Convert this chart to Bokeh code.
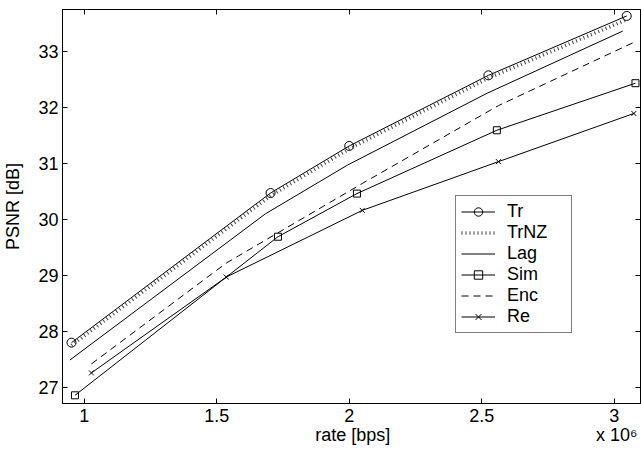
from bokeh.plotting import figure
from bokeh.models import Range1d, FixedTicker, LinearAxis, Legend, LegendItem
from bokeh.embed import file_html
from bokeh.resources import INLINE

# rate in units of 10^6 bps, PSNR in dB
tr_rate = [0.952, 1.703, 2.000, 2.525, 3.047]
tr_psnr = [27.80, 30.47, 31.31, 32.57, 33.63]

trnz_rate = [0.952, 1.703, 2.000, 2.525, 3.040]
trnz_psnr = [27.75, 30.42, 31.26, 32.52, 33.55]

lag_rate = [0.946, 1.684, 1.994, 2.520, 3.032]
lag_psnr = [27.49, 30.10, 30.97, 32.25, 33.36]

sim_rate = [0.965, 1.731, 2.029, 2.557, 3.080]
sim_psnr = [26.86, 29.69, 30.46, 31.59, 32.43]

enc_rate = [1.027, 1.536, 2.049, 2.563, 3.070]
enc_psnr = [27.42, 29.22, 30.64, 32.03, 33.15]

re_rate = [1.027, 1.536, 2.049, 2.563, 3.074]
re_psnr = [27.26, 28.97, 30.16, 31.03, 31.89]

x_ticks = [1, 1.5, 2, 2.5, 3]
y_ticks = [27, 28, 29, 30, 31, 32, 33]

x_title = "rate [bps]"
x_scale_note = "x 10\u2076"

FONT = "Liberation Sans"
FS = "18px"

p = figure(width=641, height=452, output_backend="svg", toolbar_location=None,
           x_range=Range1d(0.918, 3.099), y_range=Range1d(26.714, 33.745),
           min_border_left=61, min_border_right=1, min_border_top=9, min_border_bottom=49)
p.grid.visible = False
p.outline_line_color = "black"
p.outline_line_width = 1
p.background_fill_color = "white"
p.border_fill_color = "white"

for ax, ticks in ((p.xaxis[0], x_ticks), (p.yaxis[0], y_ticks)):
    ax.ticker = FixedTicker(ticks=ticks)
    ax.major_tick_in = 5
    ax.major_tick_out = 0
    ax.minor_tick_in = 0
    ax.minor_tick_out = 0
    ax.axis_line_color = "black"
    ax.major_tick_line_color = "black"
    ax.major_label_text_font = FONT
    ax.major_label_text_font_size = FS
    ax.major_label_text_color = "black"
    ax.axis_label_text_font = FONT
    ax.axis_label_text_font_size = FS
    ax.axis_label_text_font_style = "normal"
    ax.axis_label_text_color = "black"

p.xaxis[0].major_label_standoff = 5
p.yaxis[0].axis_label = "PSNR [dB]"
p.yaxis[0].major_label_standoff = 4
p.yaxis[0].axis_label_standoff = 12

# second row under the x axis: axis title centred, scale note at the right
note_pos = [2.013, 3.009]
xlab_axis = LinearAxis(ticker=FixedTicker(ticks=note_pos),
                       major_label_overrides={note_pos[0]: x_title, note_pos[1]: x_scale_note},
                       major_tick_in=0, major_tick_out=0, minor_tick_in=0, minor_tick_out=0,
                       axis_line_color=None, major_tick_line_color=None,
                       major_label_standoff=0, major_label_text_font=FONT,
                       major_label_text_font_size=FS, major_label_text_color="black")
p.add_layout(xlab_axis, "below")

for side, ticks in (("above", x_ticks), ("right", y_ticks)):
    ax = LinearAxis(ticker=FixedTicker(ticks=ticks), major_tick_in=5, major_tick_out=0,
                    minor_tick_in=0, minor_tick_out=0, major_label_text_font_size="0px",
                    major_label_text_alpha=0, major_label_standoff=0,
                    axis_line_color="black", major_tick_line_color="black")
    p.add_layout(ax, side)

l_tr = p.line(tr_rate, tr_psnr, line_color="black", line_width=1)
s_tr = p.scatter(tr_rate, tr_psnr, marker="circle", size=9, fill_color=None,
                 line_color="black", line_width=1)
l_trnz = p.line(trnz_rate, trnz_psnr, line_color="#444444", line_width=3.5,
                line_dash="1 3")
l_lag = p.line(lag_rate, lag_psnr, line_color="black", line_width=1)
l_sim = p.line(sim_rate, sim_psnr, line_color="black", line_width=1)
s_sim = p.scatter(sim_rate, sim_psnr, marker="square", size=7, fill_color=None,
                  line_color="black", line_width=1)
l_enc = p.line(enc_rate, enc_psnr, line_color="black", line_width=1, line_dash="7 5")
l_re = p.line(re_rate, re_psnr, line_color="black", line_width=1)
s_re = p.scatter(re_rate, re_psnr, marker="x", size=7, line_color="black", line_width=1)

legend = Legend(items=[
    LegendItem(label="Tr", renderers=[l_tr, s_tr]),
    LegendItem(label="TrNZ", renderers=[l_trnz]),
    LegendItem(label="Lag", renderers=[l_lag]),
    LegendItem(label="Sim", renderers=[l_sim, s_sim]),
    LegendItem(label="Enc", renderers=[l_enc]),
    LegendItem(label="Re", renderers=[l_re, s_re]),
], location=(393, 70), padding=5, spacing=0, glyph_width=34, glyph_height=21,
    label_height=21, label_width=59, label_standoff=12,
    label_text_font=FONT, label_text_font_size=FS, label_text_color="black",
    border_line_color="black", border_line_width=1, background_fill_color="white",
    background_fill_alpha=1.0, margin=0)
p.add_layout(legend)

open("out.html", "w").write(file_html(p, INLINE))
